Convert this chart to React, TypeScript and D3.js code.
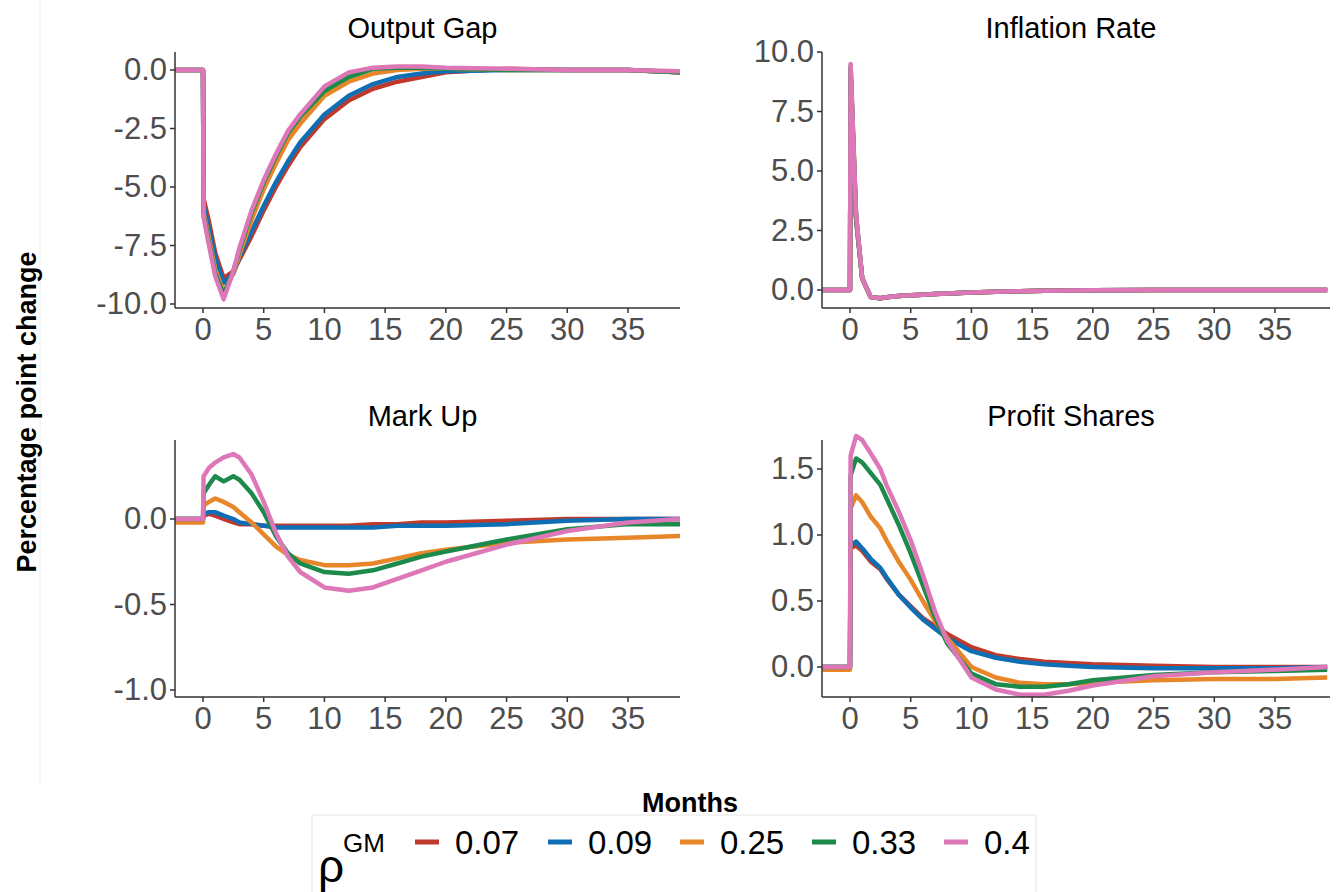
import * as d3 from 'd3';

const T = [-2.3, 0, 0.05, 0.5, 1, 1.7, 2.5, 3, 4, 5, 6, 7, 8, 10, 12, 14, 16, 18, 20, 25, 30, 35, 39.3];
const rhos = ['0.07', '0.09', '0.25', '0.33', '0.4'];
const colors = ['#C0392B', '#0E6FB5', '#E8862A', '#1B8A4B', '#DD77B8'];

const outputGap = [
  [0, 0, -5.5, -6.5, -7.8, -8.9, -8.6, -8.1, -7.1, -6.0, -5.0, -4.1, -3.3, -2.1, -1.3, -0.8, -0.5, -0.3, -0.1, 0.05, 0, 0, -0.1],
  [0, 0, -5.8, -6.8, -8.0, -9.1, -8.7, -8.0, -6.9, -5.8, -4.8, -3.9, -3.1, -1.9, -1.1, -0.6, -0.3, -0.15, -0.05, 0, 0, 0, -0.1],
  [0, 0, -6.1, -7.2, -8.5, -9.5, -8.7, -7.9, -6.4, -5.1, -4.0, -3.0, -2.3, -1.1, -0.5, -0.15, 0, 0.05, 0.05, 0, 0, 0, -0.1],
  [0, 0, -6.2, -7.4, -8.7, -9.6, -8.6, -7.7, -6.1, -4.8, -3.7, -2.7, -2.0, -0.9, -0.3, 0.05, 0.1, 0.1, 0.05, 0, 0, 0, -0.1],
  [0, 0, -6.3, -7.5, -8.8, -9.8, -8.6, -7.6, -6.0, -4.7, -3.6, -2.6, -1.9, -0.7, -0.1, 0.1, 0.15, 0.15, 0.1, 0.05, 0, 0, -0.05],
];
const inflation = [
  [0, 0, 9.0, 3.0, 0.5, -0.3, -0.35, -0.3, -0.25, -0.22, -0.2, -0.17, -0.15, -0.1, -0.07, -0.05, -0.03, -0.02, -0.01, 0, 0, 0, 0],
  [0, 0, 9.1, 3.0, 0.5, -0.3, -0.35, -0.3, -0.25, -0.22, -0.2, -0.17, -0.15, -0.1, -0.07, -0.05, -0.03, -0.02, -0.01, 0, 0, 0, 0],
  [0, 0, 9.3, 3.1, 0.5, -0.3, -0.35, -0.3, -0.25, -0.22, -0.2, -0.17, -0.15, -0.1, -0.07, -0.05, -0.03, -0.02, -0.01, 0, 0, 0, 0],
  [0, 0, 9.4, 3.1, 0.5, -0.3, -0.35, -0.3, -0.25, -0.22, -0.2, -0.17, -0.15, -0.1, -0.07, -0.05, -0.03, -0.02, -0.01, 0, 0, 0, 0],
  [0, 0, 9.5, 3.2, 0.5, -0.3, -0.35, -0.3, -0.25, -0.22, -0.2, -0.17, -0.15, -0.1, -0.07, -0.05, -0.03, -0.02, -0.01, 0, 0, 0, 0],
];
const markUp = [
  [0, 0, 0.02, 0.03, 0.02, 0.0, -0.02, -0.03, -0.03, -0.04, -0.04, -0.04, -0.04, -0.04, -0.04, -0.03, -0.03, -0.02, -0.02, -0.01, 0, 0, 0],
  [0, 0, 0.03, 0.04, 0.04, 0.02, 0, -0.02, -0.03, -0.04, -0.05, -0.05, -0.05, -0.05, -0.05, -0.05, -0.04, -0.04, -0.04, -0.03, -0.01, 0, 0],
  [-0.02, -0.02, 0.08, 0.1, 0.12, 0.1, 0.07, 0.04, -0.02, -0.09, -0.16, -0.21, -0.24, -0.27, -0.27, -0.26, -0.23, -0.2, -0.18, -0.14, -0.12, -0.11, -0.1],
  [0, 0, 0.15, 0.2, 0.25, 0.22, 0.25, 0.23, 0.15, 0.04, -0.1, -0.2, -0.26, -0.31, -0.32, -0.3, -0.26, -0.22, -0.19, -0.12, -0.06, -0.03, -0.03],
  [0, 0, 0.25, 0.3, 0.33, 0.36, 0.38, 0.36, 0.26, 0.1, -0.08, -0.22, -0.31, -0.4, -0.42, -0.4, -0.35, -0.3, -0.25, -0.15, -0.07, -0.02, 0],
];
const profitShares = [
  [0, 0, 0.9, 0.92, 0.88, 0.8, 0.74, 0.67, 0.55, 0.46, 0.37, 0.31, 0.25, 0.15, 0.09, 0.06, 0.04, 0.03, 0.02, 0.01, 0, 0, 0],
  [0, 0, 0.92, 0.95, 0.9, 0.82, 0.75, 0.68, 0.55, 0.45, 0.36, 0.29, 0.22, 0.12, 0.07, 0.04, 0.02, 0.01, 0, -0.01, -0.01, -0.01, 0],
  [-0.02, -0.02, 1.2, 1.3, 1.25, 1.14, 1.05, 0.96, 0.8, 0.66, 0.5, 0.35, 0.22, 0.0, -0.08, -0.12, -0.13, -0.13, -0.12, -0.1, -0.09, -0.09, -0.08],
  [0, 0, 1.45, 1.58, 1.55, 1.47, 1.38, 1.28, 1.08, 0.86, 0.62, 0.38, 0.18, -0.05, -0.13, -0.15, -0.15, -0.13, -0.1, -0.06, -0.04, -0.03, -0.02],
  [0, 0, 1.6, 1.75, 1.72, 1.62, 1.5, 1.38, 1.18, 0.96, 0.7, 0.42, 0.2, -0.08, -0.17, -0.21, -0.21, -0.18, -0.14, -0.07, -0.04, -0.02, 0],
];
const xTicks = [0, 5, 10, 15, 20, 25, 30, 35];

const panels = [
  { title: 'Output Gap', data: outputGap, left: 175, right: 680, top: 52, bottom: 308, yPix: [304, 70], yv: [-10, 0], ticks: [-10, -7.5, -5, -2.5, 0] },
  { title: 'Inflation Rate', data: inflation, left: 822, right: 1330, top: 52, bottom: 308, yPix: [290, 52], yv: [0, 10], ticks: [0, 2.5, 5, 7.5, 10] },
  { title: 'Mark Up', data: markUp, left: 175, right: 680, top: 440, bottom: 697, yPix: [690, 519], yv: [-1, 0], ticks: [-1, -0.5, 0] },
  { title: 'Profit Shares', data: profitShares, left: 822, right: 1330, top: 440, bottom: 697, yPix: [667, 469], yv: [0, 1.5], ticks: [0, 0.5, 1, 1.5] },
];

const font = '"Liberation Sans", Arial, sans-serif';
const fmt = (t: number) => d3.format('.1f')(t).replace('−', '-');

function Panel({ p }: { p: typeof panels[0] }) {
  const x0 = p.left + 28;
  const x = d3.scaleLinear().domain([0, 35]).range([x0, x0 + 425]);
  const y = d3.scaleLinear().domain(p.yv).range(p.yPix);
  const line = d3.line<number>().x((_, i) => x(T[i])).y(d => y(d));
  const id = 'c' + p.title.replace(/ /g, '');
  return (
    <g>
      <defs>
        <clipPath id={id}>
          <rect x={p.left} y={p.top - 10} width={p.right - p.left} height={p.bottom - p.top + 10} />
        </clipPath>
      </defs>
      <text x={(p.left + p.right) / 2 - 5} y={p.top - 14} textAnchor="middle" fontSize={29} fontFamily={font}>{p.title}</text>
      <g clipPath={`url(#${id})`}>
        {p.data.map((s, i) => (
          <path key={i} d={line(s) ?? ''} fill="none" stroke={colors[i]} strokeWidth={4.5} strokeLinejoin="round" />
        ))}
      </g>
      <line x1={p.left} x2={p.left} y1={p.top} y2={p.bottom} stroke="#333" strokeWidth={1.5} />
      <line x1={p.left} x2={p.right} y1={p.bottom} y2={p.bottom} stroke="#333" strokeWidth={1.5} />
      {p.ticks.map(t => (
        <g key={t}>
          <line x1={p.left - 5} x2={p.left} y1={y(t)} y2={y(t)} stroke="#333" strokeWidth={1.5} />
          <text x={p.left - 8} y={y(t) + 10} textAnchor="end" fontSize={31} fill="#4d4d4d" fontFamily={font}>{fmt(t)}</text>
        </g>
      ))}
      {xTicks.map(t => (
        <g key={t}>
          <line x1={x(t)} x2={x(t)} y1={p.bottom} y2={p.bottom + 5} stroke="#333" strokeWidth={1.5} />
          <text x={x(t)} y={p.bottom + 32} textAnchor="middle" fontSize={31} fill="#4d4d4d" fontFamily={font}>{t}</text>
        </g>
      ))}
    </g>
  );
}

export default function App() {
  const legendX = [415, 548, 680, 812, 944];
  return (
    <svg width={1340} height={892} style={{ position: 'absolute', left: 0, top: 0, background: '#fff' }}>
      <line x1={40} x2={40} y1={0} y2={785} stroke="#eee" />
      {panels.map(p => <Panel key={p.title} p={p} />)}
      <text transform="translate(36,412) rotate(-90)" textAnchor="middle" fontSize={27} fontWeight="bold" fontFamily={font}>Percentage point change</text>
      <text x={690} y={812} textAnchor="middle" fontSize={27} fontWeight="bold" fontFamily={font}>Months</text>
      <rect x={312} y={815} width={724} height={90} fill="none" stroke="#e6e6e6" />
      <text x={318} y={882} fontSize={46} fontFamily={font}>ρ</text>
      <text x={343} y={852} fontSize={26} fontFamily={font}>GM</text>
      {rhos.map((r, i) => (
        <g key={r}>
          <line x1={legendX[i]} x2={legendX[i] + 24} y1={842} y2={842} stroke={colors[i]} strokeWidth={5} />
          <text x={legendX[i] + 40} y={854} fontSize={33} fontFamily={font}>{r}</text>
        </g>
      ))}
    </svg>
  );
}
